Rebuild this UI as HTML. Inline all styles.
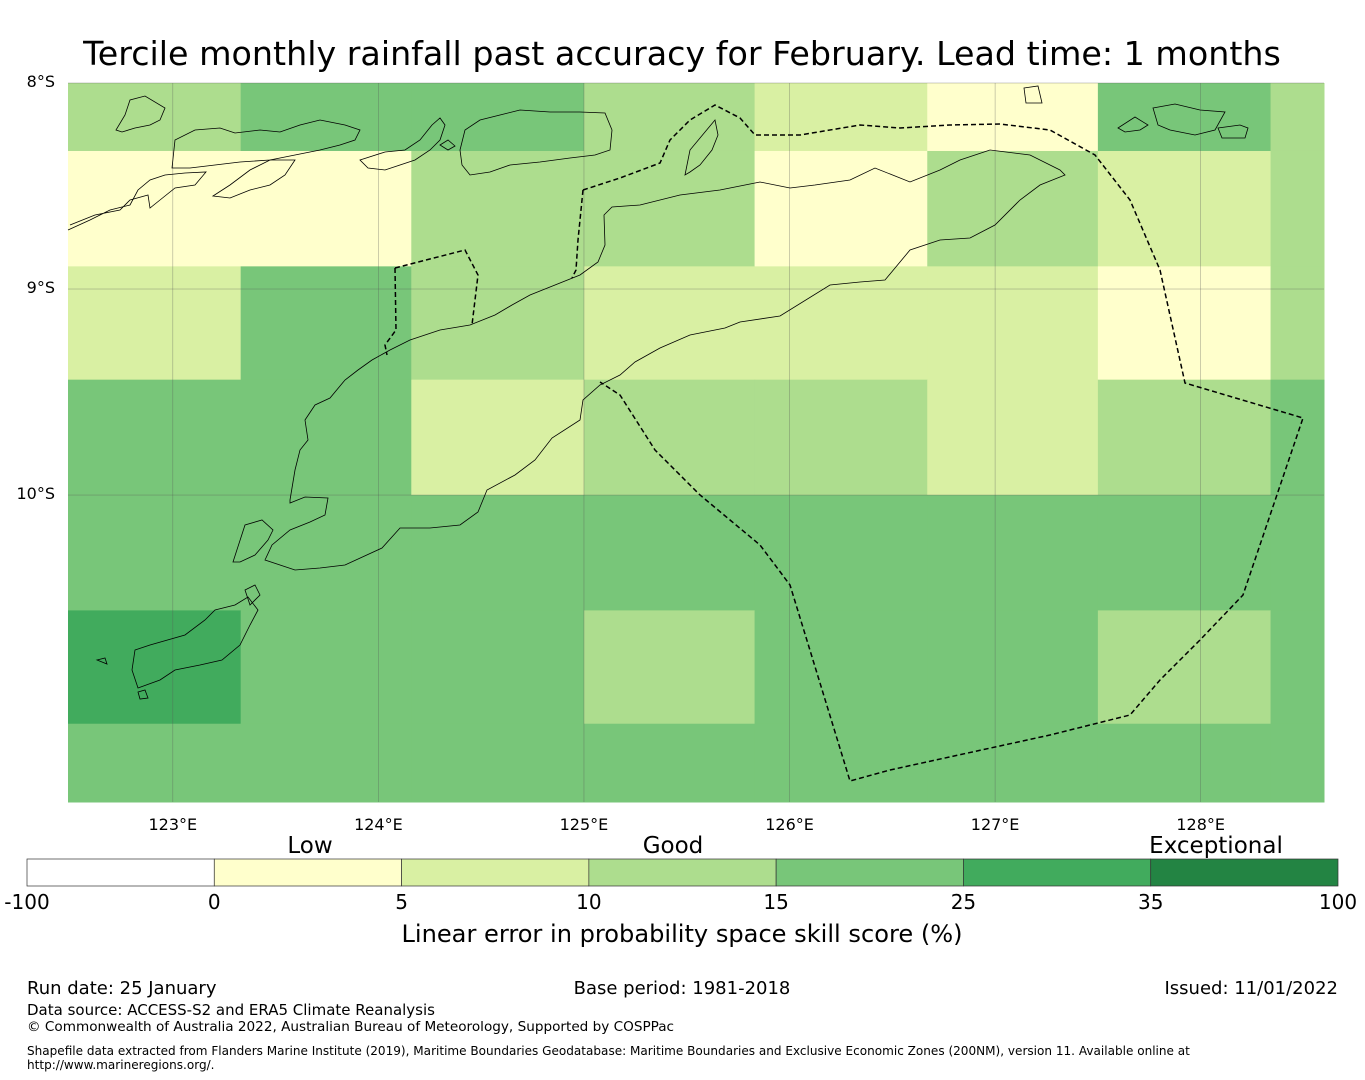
<!DOCTYPE html>
<html><head><meta charset="utf-8">
<style>
body{margin:0;background:#fff;font-family:"Liberation Sans","DejaVu Sans",sans-serif;}
#wrap{position:relative;width:1365px;height:1080px;overflow:hidden;}
svg text{font-family:"DejaVu Sans","Liberation Sans",sans-serif;}
</style></head>
<body>
<div id="wrap">
<svg id="svg" width="1365" height="1080" xmlns="http://www.w3.org/2000/svg">
<text x="682" y="65" font-size="33.3" text-anchor="middle">Tercile monthly rainfall past accuracy for February. Lead time: 1 months</text>
<g id="cells"></g>
<g id="grid"></g>
<g id="coast" fill="none" stroke="#000" stroke-width="0.8">
<path d="M290,500 L295,470 L300,450 L308,440 L305,420 L315,405 L330,398 L345,380 L358,370 L372,360 L390,350 L410,340 L440,330 L470,325 L495,315 L512,305 L530,295 L555,285 L580,275 L598,262 L605,245 L604,215 L612,207 L640,205 L680,195 L720,190 L760,182 L790,188 L815,185 L850,180 L875,168 L910,182 L940,170 L960,160 L990,150 L1030,155 L1060,170 L1065,175 L1040,185 L1020,200 L995,225 L970,238 L940,240 L910,250 L885,280 L860,282 L830,285 L780,316 L740,322 L725,328 L690,335 L660,348 L635,362 L620,375 L600,385 L583,400 L580,420 L552,438 L535,460 L515,475 L487,490 L478,512 L460,525 L430,528 L400,528 L382,548 L345,565 L320,568 L295,570 L265,560 L272,545 L290,530 L310,522 L325,515 L328,498 L305,497 L290,503 Z"/>
<path d="M233,562 L245,525 L262,520 L273,530 L268,540 L255,555 L240,562 Z"/>
<path d="M135,650 L150,645 L185,635 L205,620 L215,610 L235,605 L248,597 L258,610 L250,625 L240,645 L222,660 L200,665 L175,670 L160,680 L138,688 L132,670 Z"/>
<path d="M245,590 L255,585 L260,595 L250,605 Z"/>
<path d="M138,692 L145,690 L148,698 L140,699 Z"/>
<path d="M97,660 L105,658 L107,664 Z"/>
<path d="M68,230 L90,220 L110,210 L130,205 L138,190 L150,180 L165,175 L185,173 L206,172 L195,185 L175,188 L160,200 L150,208 L148,195 L130,200 L120,210 L95,215 L70,225"/>
<path d="M116,130 L125,115 L130,100 L145,96 L165,108 L160,120 L150,125 L135,128 L122,132 Z"/>
<path d="M172,168 L175,140 L195,130 L220,128 L235,133 L260,130 L280,132 L300,125 L320,120 L345,125 L360,130 L355,140 L340,145 L320,150 L295,155 L270,160 L240,162 L215,165 L190,168 Z"/>
<path d="M213,196 L230,185 L250,170 L270,160 L295,160 L285,175 L270,185 L250,190 L230,198 Z"/>
<path d="M360,160 L385,152 L405,150 L420,140 L432,125 L440,118 L445,125 L440,140 L430,150 L415,160 L400,165 L385,170 L368,168 Z"/>
<path d="M460,150 L465,130 L480,120 L500,115 L520,110 L550,112 L580,112 L605,113 L612,130 L610,150 L595,155 L570,158 L540,162 L510,165 L490,172 L470,175 L462,165 Z"/>
<path d="M685,175 L690,150 L705,132 L715,120 L718,135 L712,150 L700,165 L690,172 Z"/>
<path d="M1024,88 L1038,86 L1042,103 L1026,103 Z"/>
<path d="M1118,128 L1135,117 L1148,125 L1140,130 L1125,132 Z"/>
<path d="M1153,108 L1175,104 L1200,110 L1225,112 L1215,130 L1195,135 L1170,130 L1158,125 Z"/>
<path d="M1218,128 L1240,125 L1248,128 L1245,138 L1222,138 Z"/>
<path d="M440,145 L448,140 L455,146 L448,150 Z"/>
</g>
<g fill="none" stroke="#000" stroke-width="1.5" stroke-dasharray="5,3">
<path d="M583,190 L620,178 L660,163 L670,140 L690,120 L715,105 L740,118 L755,135 L800,135 L860,125 L900,128 L950,125 L1000,124 L1050,130 L1095,155 L1130,200 L1160,270 L1185,383 L1303,418 L1243,595 L1200,640 L1160,680 L1130,715 L1050,735 L890,770 L850,781 L790,585 L760,545 L700,495 L655,450 L620,395 L600,382"/>
<path d="M583,190 L578,240 L576,270 L572,278"/>
<path d="M395,268 L465,250 L478,275 L472,325"/>
<path d="M395,268 L396,330 L385,345 L387,355"/>
</g>
<g id="axislabels" font-size="16"></g>
<g id="cbar"></g>
<text x="310" y="853" font-size="23" text-anchor="middle">Low</text>
<text x="673" y="853" font-size="23" text-anchor="middle">Good</text>
<text x="1216" y="853" font-size="23" text-anchor="middle">Exceptional</text>
<text x="682" y="942" font-size="24.1" text-anchor="middle">Linear error in probability space skill score (%)</text>
<text x="27" y="994" font-size="18">Run date: 25 January</text>
<text x="682" y="994" font-size="18" text-anchor="middle">Base period: 1981-2018</text>
<text x="1338" y="994" font-size="18" text-anchor="end">Issued: 11/01/2022</text>
<text x="27" y="1015" font-size="15">Data source: ACCESS-S2 and ERA5 Climate Reanalysis</text>
<text x="27" y="1031" font-size="13.6">© Commonwealth of Australia 2022, Australian Bureau of Meteorology, Supported by COSPPac</text>
<text x="27" y="1055" font-size="12.05">Shapefile data extracted from Flanders Marine Institute (2019), Maritime Boundaries Geodatabase: Maritime Boundaries and Exclusive Economic Zones (200NM), version 11. Available online at</text>
<text x="27" y="1069" font-size="12.05">http://www.marineregions.org/.</text>
</svg>
</div>
<script>
const lonEdges=[122.49,123.33,124.16,125.0,125.83,126.67,127.5,128.34,128.6];
const latEdges=[8.0,8.33,8.89,9.44,10.0,10.56,11.11,11.49];
const skill=[
[12,20,20,12,7,3,20,12],
[3,3,12,12,3,12,7,12],
[7,20,12,7,7,7,3,12],
[20,20,7,12,12,7,12,20],
[20,20,20,20,20,20,20,20],
[30,20,20,12,20,20,12,20],
[20,20,20,20,20,20,20,20]];
const cbTicks=[-100,0,5,10,15,25,35,100];
const cbColors=["#ffffff","#ffffcc","#d9f0a3","#addd8e","#78c679","#41ab5d","#238443"];
const lonTicks=[123,124,125,126,127,128];
const latTicks=[8,9,10];
const X0=68,X1=1324,LON0=122.49,LON1=128.6,Y0=83,Y1=802,LAT0=8,LAT1=11.49;
const xs=l=>X0+(l-LON0)/(LON1-LON0)*(X1-X0);
const ys=l=>Y0+(l-LAT0)/(LAT1-LAT0)*(Y1-Y0);
const NS="http://www.w3.org/2000/svg";
function colorFor(v){for(let i=cbTicks.length-2;i>=0;i--){if(v>=cbTicks[i])return cbColors[i];}return cbColors[0];}
const cells=document.getElementById('cells');
skill.forEach((row,r)=>row.forEach((v,c)=>{
 const e=document.createElementNS(NS,'rect');
 
 
 const x=xs(lonEdges[c]),x2=xs(lonEdges[c+1]),y=ys(latEdges[r]),y2=ys(latEdges[r+1]);
 e.setAttribute('x',x);e.setAttribute('y',y);e.setAttribute('width',x2-x+0.5);e.setAttribute('height',y2-y+0.5);
 e.setAttribute('fill',colorFor(v));cells.appendChild(e);
}));
const grid=document.getElementById('grid'),al=document.getElementById('axislabels');
lonTicks.forEach(l=>{
 const g=document.createElementNS(NS,'line');
 
 
 g.setAttribute('x1',xs(l));g.setAttribute('x2',xs(l));g.setAttribute('y1',Y0);g.setAttribute('y2',Y1);
 g.setAttribute('stroke','#555');g.setAttribute('stroke-width','0.5');g.setAttribute('stroke-opacity','0.6');grid.appendChild(g);
 const t=document.createElementNS(NS,'text');
 
 
 t.setAttribute('x',xs(l));t.setAttribute('y',830);t.setAttribute('text-anchor','middle');t.textContent=l+'°E';al.appendChild(t);
});
latTicks.forEach(l=>{
 const g=document.createElementNS(NS,'line');
 
 
 g.setAttribute('x1',X0);g.setAttribute('x2',X1);g.setAttribute('y1',ys(l));g.setAttribute('y2',ys(l));
 g.setAttribute('stroke','#555');g.setAttribute('stroke-width','0.5');g.setAttribute('stroke-opacity','0.6');grid.appendChild(g);
 const t=document.createElementNS(NS,'text');
 
 
 t.setAttribute('x',55);t.setAttribute('y',ys(l)+4);t.setAttribute('text-anchor','end');t.textContent=l+'°S';al.appendChild(t);
});
const cb=document.getElementById('cbar');const CX0=27,CX1=1338,n=cbColors.length,w=(CX1-CX0)/n;
cbColors.forEach((c,i)=>{
 const e=document.createElementNS(NS,'rect');
 
 
 e.setAttribute('x',CX0+i*w);e.setAttribute('y',859);e.setAttribute('width',w);e.setAttribute('height',27);
 e.setAttribute('fill',c);e.setAttribute('stroke','#333');e.setAttribute('stroke-width','0.7');cb.appendChild(e);
});
cbTicks.forEach((v,i)=>{
 const t=document.createElementNS(NS,'text');
 
 
 t.setAttribute('x',CX0+i*w);t.setAttribute('y',909);t.setAttribute('text-anchor','middle');t.setAttribute('font-size','20');t.textContent=v;cb.appendChild(t);
});
</script>
</body></html>
